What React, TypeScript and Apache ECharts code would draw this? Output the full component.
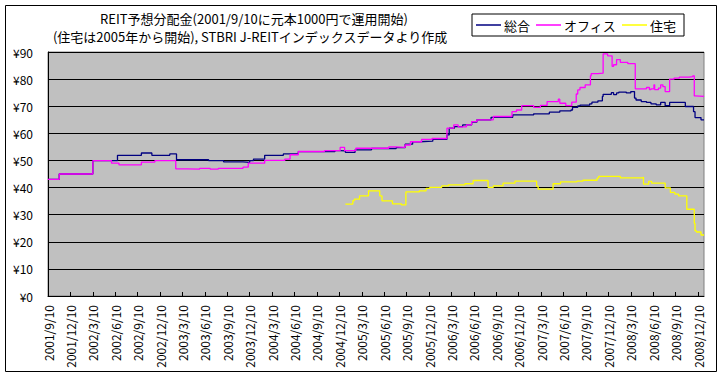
import React, { useEffect, useRef } from "react";
import * as echarts from "echarts";

// x = months elapsed since 2001/9/10
const tickLabels = [
  "2001/9/10", "2001/12/10",
  "2002/3/10", "2002/6/10", "2002/9/10", "2002/12/10",
  "2003/3/10", "2003/6/10", "2003/9/10", "2003/12/10",
  "2004/3/10", "2004/6/10", "2004/9/10", "2004/12/10",
  "2005/3/10", "2005/6/10", "2005/9/10", "2005/12/10",
  "2006/3/10", "2006/6/10", "2006/9/10", "2006/12/10",
  "2007/3/10", "2007/6/10", "2007/9/10", "2007/12/10",
  "2008/3/10", "2008/6/10", "2008/9/10", "2008/12/10",
];

const yTickLabels = ["¥0", "¥10", "¥20", "¥30", "¥40", "¥50", "¥60", "¥70", "¥80", "¥90"];

const seriesNames = ["総合", "オフィス", "住宅"];

const totalMonths = [
  0, 1.5, 6.0, 9.3, 12.5, 13.9, 16.3, 17.2, 21.5, 23.5, 26.1, 27.0, 27.5, 29.0, 31.5, 33.5, 38.4,
  39.1, 39.8, 41.1, 43.3, 46.6, 47.8, 48.8, 49.7, 51.5, 53.4, 53.7, 54.4, 55.5, 56.7, 57.4, 59.3,
  62.2, 65.0, 67.1, 68.5, 70.0, 70.2, 70.9, 71.2, 72.5, 72.8, 73.6, 74.2, 74.3, 75.4, 75.7, 76.1,
  76.4, 77.4, 78.0, 78.5, 78.7, 79.4, 80.1, 80.7, 81.4, 82.0, 82.6, 83.2, 85.3, 86.4, 86.6, 87.4, 87.8,
];
const totalValues = [
  43, 45, 49.9, 51.9, 52.75, 51.9, 52.4, 50.25, 49.9, 49.5, 49.3, 49.9, 50.5, 51.9, 52.4, 53.25, 53.6,
  53.5, 53.0, 53.9, 54.4, 54.7, 56.0, 56.9, 57.1, 57.8, 59.4, 61.9, 62.5, 63.1, 64.1, 65.0, 65.9,
  66.8, 67.2, 67.8, 68.3, 68.6, 69.6, 70.1, 70.4, 70.9, 71.5, 72.0, 73.6, 74.4, 75.0, 74.3, 74.9,
  75.2, 74.9, 75.4, 73.0, 72.3, 71.7, 71.4, 70.9, 70.5, 71.4, 70.2, 71.4, 69.9, 68.0, 65.8, 65.0, 65.0,
];

const officeMonths = [
  0, 1.5, 6.0, 8.5, 9.5, 12.5, 14.3, 17.1, 18.6, 20.3, 21.7, 22.8, 26.1, 26.8, 29.0, 31.7, 32.4,
  33.5, 37.0, 39.1, 39.7, 41.2, 45.6, 46.5, 47.8, 48.5, 50.0, 51.4, 53.4, 54.3, 54.9, 56.0, 56.7,
  57.4, 59.6, 62.1, 62.7, 63.4, 65.0, 65.9, 66.8, 68.3, 68.5, 69.3, 70.1, 70.7, 70.9, 71.2, 71.9,
  72.6, 72.7, 73.6, 74.3, 74.9, 75.5, 75.7, 76.1, 76.6, 77.6, 78.6, 80.1, 80.5, 80.7, 81.1, 81.2,
  81.7, 82.0, 82.3, 82.6, 83.2, 83.8, 84.5, 85.8, 86.3, 86.5, 86.6, 87.8,
];
const officeValues = [
  43, 45, 49.9, 49.0, 48.4, 49.4, 49.9, 46.9, 46.8, 47.1, 46.8, 47.1, 47.5, 49.0, 50.0, 50.5, 52.1,
  53.3, 53.6, 54.8, 53.6, 54.5, 55.0, 54.8, 55.7, 56.9, 57.8, 58.1, 61.9, 63.1, 62.4, 63.1, 64.3,
  65.0, 66.2, 68.0, 68.6, 70.2, 69.6, 70.3, 71.7, 72.6, 71.1, 70.2, 71.5, 74.5, 76.0, 76.9, 77.9,
  81.2, 82.0, 82.2, 89.3, 88.6, 84.7, 85.3, 87.2, 86.2, 85.7, 76.4, 76.9, 76.1, 76.4, 77.9, 76.1,
  76.7, 77.9, 77.2, 75.4, 80.0, 80.4, 80.7, 80.9, 81.2, 73.8, 73.6, 73.6,
];

const residentialMonths = [
  39.8, 40.8, 41.0, 41.7, 42.9, 44.4, 44.7, 46.1, 47.3, 47.9, 49.7, 50.6, 51.1, 52.7, 53.6, 55.8,
  56.9, 58.9, 59.6, 60.9, 62.5, 65.4, 65.6, 67.6, 68.6, 70.8, 71.6, 73.5, 73.7, 76.6, 79.5, 79.7,
  80.4, 80.8, 82.6, 83.3, 83.9, 84.4, 85.5, 86.5, 86.6, 86.8, 87.4, 87.8,
];
const residentialValues = [
  33.9, 35.2, 35.7, 36.9, 38.8, 36.9, 35.1, 34.0, 33.6, 38.4, 38.8, 39.7, 40.1, 40.6, 41.0, 41.4,
  42.6, 40.1, 40.6, 41.6, 42.4, 40.5, 39.4, 41.4, 42.1, 42.4, 42.7, 43.5, 44.1, 43.6, 43.8, 41.3,
  42.3, 41.6, 39.9, 38.2, 37.6, 36.9, 32.0, 26.8, 24.0, 23.6, 22.5, 22.5,
];

const colors = ["#000080", "#FF00FF", "#FFFF00"];

const titleLine1 = "REIT予想分配金(2001/9/10に元本1000円で運用開始)";
const titleLine2 = "(住宅は2005年から開始), STBRI J-REITインデックスデータより作成";

const FONT = "'MS PGothic', 'Noto Sans CJK JP', sans-serif";

function zip(xs: number[], ys: number[]) {
  return xs.map((x, i) => [x, ys[i]]);
}

export default function App() {
  const ref = useRef<HTMLDivElement>(null);
  useEffect(() => {
    if (!ref.current) return;
    const chart = echarts.init(ref.current, undefined, { renderer: "svg" });
    const mkSeries = (name: string, data: number[][], color: string) => ({
      name,
      type: "line",
      step: "end",
      symbol: "none",
      data,
      lineStyle: { color, width: 1.3 },
      itemStyle: { color },
    });
    chart.setOption({
      animation: false,
      backgroundColor: "#fff",
      graphic: [
        {
          type: "rect",
          shape: { x: 5.5, y: 5.5, width: 711, height: 366 },
          style: { fill: "none", stroke: "#000", lineWidth: 1 },
          silent: true,
        },
        {
          type: "text",
          x: 254,
          y: 18,
          style: {
            text: titleLine1,
            align: "center",
            verticalAlign: "middle",
            fontSize: 13,
            fontFamily: FONT,
            fill: "#000",
          },
        },
        {
          type: "text",
          x: 250,
          y: 36,
          style: {
            text: titleLine2,
            align: "center",
            verticalAlign: "middle",
            fontSize: 13,
            fontFamily: FONT,
            fill: "#000",
          },
        },
      ],
      legend: {
        left: 472,
        top: 14,
        padding: [3, 8, 3, 4],
        itemGap: 6,
        itemWidth: 25,
        itemHeight: 1.5,
        icon: "rect",
        backgroundColor: "#fff",
        borderColor: "#000",
        borderWidth: 1,
        borderRadius: 0,
        textStyle: { fontSize: 13, fontFamily: FONT, color: "#000", padding: [0, 0, 0, -2], lineHeight: 16 },
        data: seriesNames,
      },
      grid: {
        left: 48,
        top: 52,
        right: 14,
        bottom: 78,
        show: true,
        backgroundColor: "#C0C0C0",
        borderColor: "#808080",
        borderWidth: 1,
      },
      xAxis: {
        type: "value",
        min: 0,
        max: 87.8,
        interval: 3,
        axisLine: { show: true, lineStyle: { color: "#000", width: 1 } },
        axisTick: { show: true, inside: true, length: 4, lineStyle: { color: "#000" } },
        splitLine: { show: false },
        axisLabel: {
          rotate: 90,
          margin: 9,
          fontSize: 12,
          fontFamily: FONT,
          color: "#000",
          showMaxLabel: false,
          formatter: (v: number) => {
            const i = Math.round(v / 3);
            if (Math.abs(v - i * 3) > 1e-6) return "";
            return tickLabels[i] ?? "";
          },
        },
      },
      yAxis: {
        type: "value",
        min: 0,
        max: 90,
        interval: 10,
        axisLine: { show: true, lineStyle: { color: "#000", width: 1 } },
        axisTick: { show: false },
        splitLine: { show: true, lineStyle: { color: "#000", width: 1 } },
        axisLabel: {
          margin: 15,
          fontSize: 12,
          fontFamily: FONT,
          color: "#000",
          formatter: (v: number) => yTickLabels[Math.round(v / 10)] ?? "",
        },
      },
      series: [
        mkSeries(seriesNames[0], zip(totalMonths, totalValues), colors[0]),
        mkSeries(seriesNames[1], zip(officeMonths, officeValues), colors[1]),
        mkSeries(seriesNames[2], zip(residentialMonths, residentialValues), colors[2]),
      ],
    });
    return () => chart.dispose();
  }, []);
  return (
    <div
      ref={ref}
      style={{ position: "absolute", left: 0, top: 0, width: 718, height: 374, background: "#fff" }}
    />
  );
}
